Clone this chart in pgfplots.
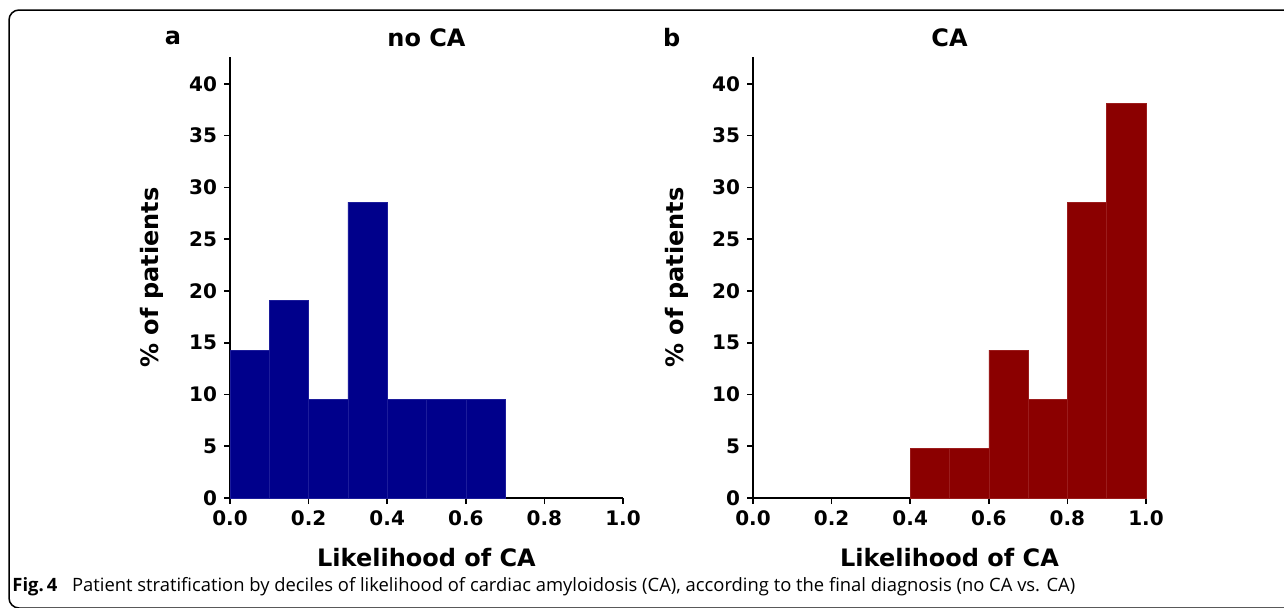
\documentclass[border=0pt]{standalone}
\usepackage{fontspec}
\setmainfont{DejaVu Sans}
\newfontfamily\capfont{Open Sans}
\usepackage{pgfplots}
\pgfplotsset{compat=1.18}
\definecolor{navyb}{RGB}{0,0,139}
\definecolor{navye}{RGB}{28,28,155}
\definecolor{darkr}{RGB}{139,0,0}
\definecolor{darke}{RGB}{155,28,28}
\pgfplotsset{
  myax/.style={
    scale only axis, width=196.5pt, height=220.5pt,
    anchor=south west,
    xmin=0, xmax=1, ymin=0, ymax=42.6,
    axis lines*=left,
    axis line style={line width=0.8pt, black},
    xtick={0,0.2,0.4,0.6,0.8,1.0},
    xticklabels={0.0,0.2,0.4,0.6,0.8,1.0},
    ytick={0,5,10,15,20,25,30,35,40},
    yticklabels={0,5,10,15,20,25,30,35,40},
    tick align=outside,
    major tick length=3pt,
    every tick/.style={line width=0.8pt, black},
    tick label style={font=\bfseries\fontsize{10}{12}\selectfont},
    /pgf/number format/assume math mode=true,
    xlabel={Likelihood of CA},
    ylabel={\% of patients},
    every axis x label/.style={at={(axis description cs:0.5,-0.134)}, anchor=center, font=\bfseries\fontsize{12}{14}\selectfont},
    every axis title/.style={at={(axis description cs:0.5,1.043)}, anchor=center, font=\bfseries\fontsize{12}{14}\selectfont},
    clip=false,
  }
}
\begin{document}
\begin{tikzpicture}
\useasboundingbox (0,0) rectangle (642pt,303.5pt);
\draw[line width=0.75pt, rounded corners=5pt] (660pt,298.5pt) -- (4.5pt,298.5pt) -- (4.5pt,-0.5pt) -- (660pt,-0.5pt);

\begin{axis}[myax, at={(115pt,54.5pt)}, title={no CA},
  every axis y label/.style={at={(axis description cs:-0.1985,0.5)}, rotate=90, anchor=center, font=\bfseries\fontsize{12}{14}\selectfont}]
\addplot[ybar, bar width=0.1, bar shift=0pt, fill=navyb, draw=navye, line width=0.3pt] coordinates {
(0.05,14.29) (0.15,19.05) (0.25,9.52) (0.35,28.57) (0.45,9.52) (0.55,9.52) (0.65,9.52)};
\node[font=\bfseries\fontsize{12}{14}\selectfont] at (axis description cs:-0.145,1.043) {a};
\end{axis}

\begin{axis}[myax, at={(376.5pt,54.5pt)}, title={CA},
  every axis y label/.style={at={(axis description cs:-0.1925,0.5)}, rotate=90, anchor=center, font=\bfseries\fontsize{12}{14}\selectfont}]
\addplot[ybar, bar width=0.1, bar shift=0pt, fill=darkr, draw=darke, line width=0.3pt] coordinates {
(0.45,4.76) (0.55,4.76) (0.65,14.29) (0.75,9.52) (0.85,28.57) (0.95,38.10)};
\node[font=\bfseries\fontsize{12}{14}\selectfont] at (axis description cs:-0.2066,1.043) {b};
\end{axis}

\node[anchor=base west, inner sep=0pt, font=\capfont\fontsize{9.2}{11}\selectfont] at (6pt,8pt)
  {\textbf{Fig.\,4}\hspace{0.8em}Patient stratification by deciles of likelihood of cardiac amyloidosis (CA), according to the final diagnosis (no CA vs. CA)};
\end{tikzpicture}
\end{document}
